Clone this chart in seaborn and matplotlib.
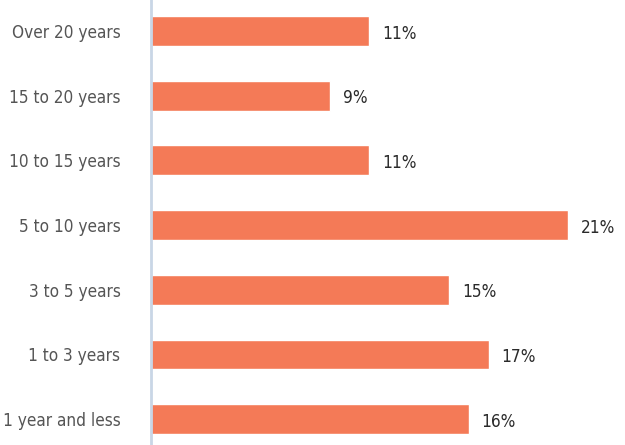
import matplotlib
matplotlib.use("Agg")
import matplotlib.pyplot as plt
import seaborn as sns
import pandas as pd

categories = ["Over 20 years", "15 to 20 years", "10 to 15 years", "5 to 10 years",
              "3 to 5 years", "1 to 3 years", "1 year and less"]
values = [11, 9, 11, 21, 15, 17, 16]
value_labels = ["11%", "9%", "11%", "21%", "15%", "17%", "16%"]

sns.set_style("white")
plt.rcParams['font.family'] = ['DejaVu Sans']
plt.rcParams['font.stretch'] = 'condensed'

df = pd.DataFrame({"cat": categories, "val": values})

fig = plt.figure(figsize=(6.25, 4.45), dpi=100)
ax = fig.add_axes([151/625, 0, 1 - 151/625, 1])
sns.barplot(data=df, y="cat", x="val", orient="h", color="#F47A57",
            saturation=1, width=0.46, ax=ax)
ax.set_xlim(0, 23.87)
ax.set_ylim(6.40, -0.479)
ax.set_xlabel("")
ax.set_ylabel("")
ax.set_xticks([])
for s in ["top", "right", "bottom"]:
    ax.spines[s].set_visible(False)
ax.spines["left"].set_color("#C9D6E6")
ax.spines["left"].set_linewidth(2)
ax.tick_params(axis="y", length=0, pad=22, labelsize=12.3, labelcolor="#555555")
for lbl in ax.get_yticklabels():
    lbl.set_fontstretch('condensed')
for i, (v, lab) in enumerate(zip(values, value_labels)):
    ax.text(v + 0.65, i + 0.04, lab, va="center", ha="left", fontsize=12.3,
            color="#2a2a2a", fontstretch='condensed')
fig.savefig("out.png", dpi=100)
